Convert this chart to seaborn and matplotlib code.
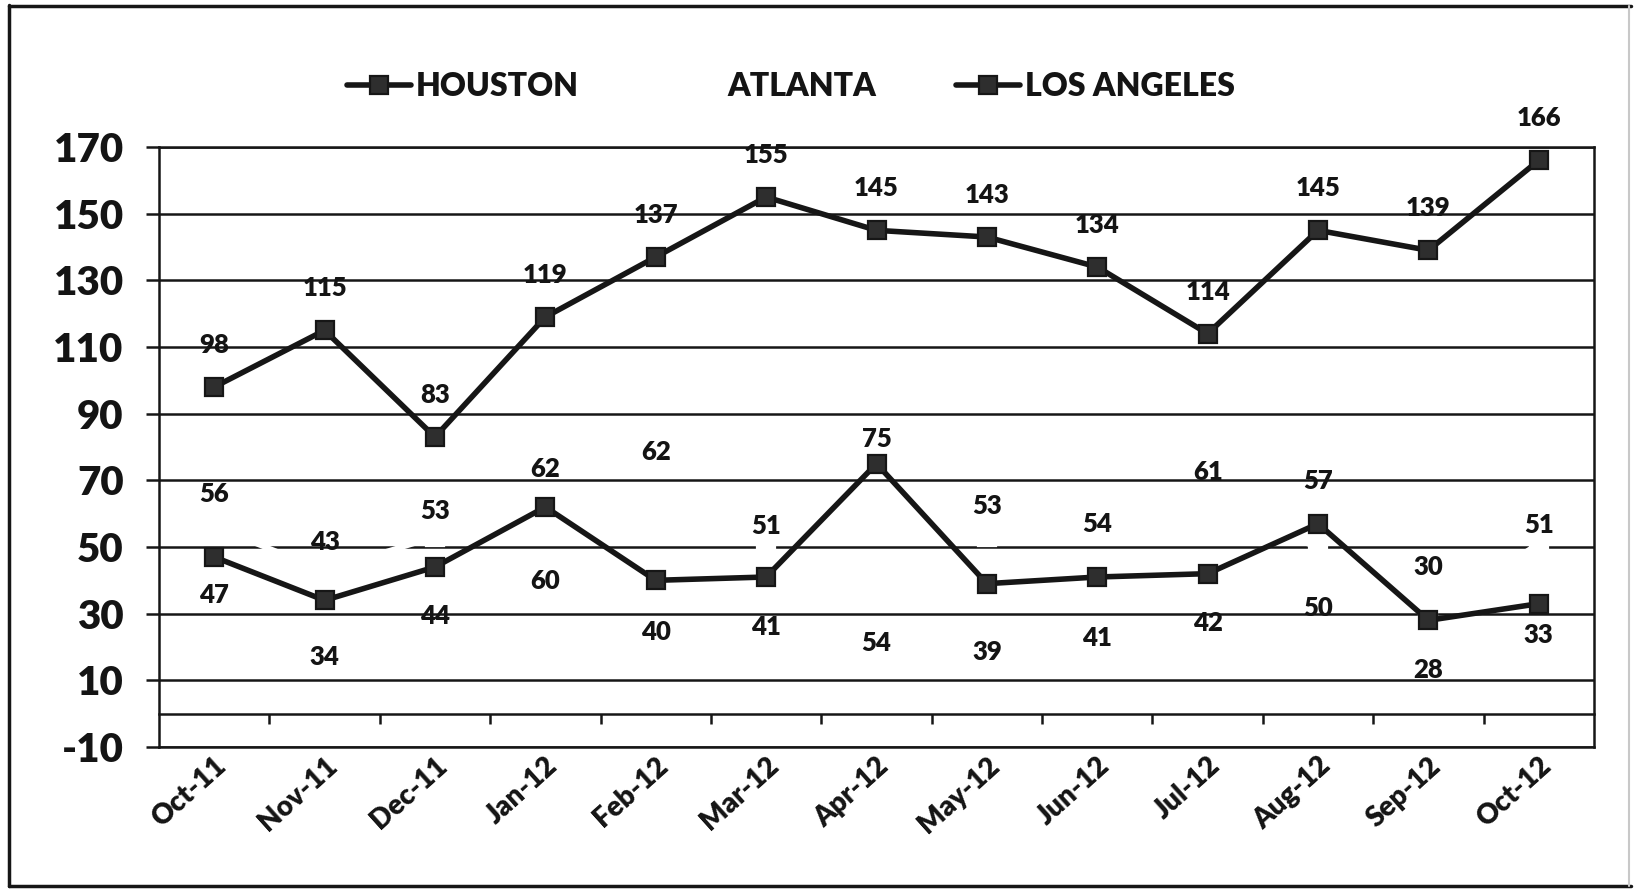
import numpy as np
import pandas as pd
import matplotlib
matplotlib.use("Agg")
import matplotlib.pyplot as plt
import seaborn as sns
from matplotlib.lines import Line2D

# ---- data -------------------------------------------------------------
months = ["Oct-11", "Nov-11", "Dec-11", "Jan-12", "Feb-12", "Mar-12", "Apr-12",
          "May-12", "Jun-12", "Jul-12", "Aug-12", "Sep-12", "Oct-12"]
houston = [98, 115, 83, 119, 137, 155, 145, 143, 134, 114, 145, 139, 166]
atlanta = [56, 43, 53, 60, 62, 51, 54, 53, 54, 61, 50, 30, 51]
los_angeles = [47, 34, 44, 62, 40, 41, 75, 39, 41, 42, 57, 28, 33]
y_ticks = [-10, 10, 30, 50, 70, 90, 110, 130, 150, 170]
y_tick_labels = ["-10", "10", "30", "50", "70", "90", "110", "130", "150", "170"]

# vertical placement of the value labels, in pixels (positive = above the point)
houston_label_dy = [42] * len(months)
atlanta_label_dy = [33, 28, 26, -67, 55, 18, -109, 31, 10, 38, -61, 47, 19]
la_label_dy = [-38, -57, -49, 38, -52, -50, 25, -68, -61, -49, 43, -50, -31]

# ---- style ------------------------------------------------------------
sns.set_theme(style="white")
plt.rcParams["font.family"] = ["Lato", "DejaVu Sans"]
plt.rcParams["font.weight"] = "heavy"
plt.rcParams["axes.unicode_minus"] = False

INK = "#161616"
TXT = "#141414"
W, H = 1637, 889
fig = plt.figure(figsize=(W / 100, H / 100), dpi=100)
fig.patch.set_facecolor("white")
ax = fig.add_axes([159 / W, 1 - 747 / H, (1594 - 159) / W, (747 - 147) / H])
ax.set_facecolor("white")

x = np.arange(len(months))
df = pd.DataFrame({"pos": x, "HOUSTON": houston, "ATLANTA": atlanta,
                   "LOS ANGELES": los_angeles})

series_style = {
    "HOUSTON": dict(color=INK, mfc="#2e2e2e", mec=INK, z=4),
    "ATLANTA": dict(color="white", mfc="white", mec="white", z=3),
    "LOS ANGELES": dict(color=INK, mfc="#2e2e2e", mec=INK, z=5),
}

for name, st in series_style.items():
    sns.lineplot(data=df, x="pos", y=name, ax=ax, color=st["color"], lw=4.0,
                 marker="s", markersize=12.5, markerfacecolor=st["mfc"],
                 markeredgecolor=st["mec"], markeredgewidth=1.6,
                 zorder=st["z"], legend=False)

# value labels
for values, offsets in ((houston, houston_label_dy),
                        (atlanta, atlanta_label_dy),
                        (los_angeles, la_label_dy)):
    for xi, v, dy in zip(x, values, offsets):
        ax.annotate(str(v), (xi, v), xytext=(0, dy), textcoords="offset pixels",
                    ha="center", va="center", fontsize=18.5, fontweight="heavy",
                    color=TXT, zorder=6)

# axes, grid and ticks
ax.set_xlim(-0.5, len(months) - 0.5)
ax.set_ylim(-10, 170)
ax.set_yticks(y_ticks)
ax.set_yticklabels(y_tick_labels, fontweight="heavy")
ax.set_xticks(x)
ax.set_xticklabels(months, rotation=42, ha="right", rotation_mode="anchor",
                   fontweight="heavy")
ax.set_xlabel("")
ax.set_ylabel("")
ax.grid(axis="y", color=INK, lw=1.8)
ax.grid(axis="x", visible=False)
ax.set_axisbelow(True)
for sp in ax.spines.values():
    sp.set_visible(True)
    sp.set_color(INK)
    sp.set_linewidth(1.8)
ax.tick_params(axis="y", left=True, length=9.5, width=1.8, color=INK, pad=16,
               labelsize=29, labelcolor=TXT)
ax.tick_params(axis="x", bottom=False, length=0, pad=4, labelsize=20,
               labelcolor=TXT)

# horizontal axis line at zero with tick marks between categories
zero_axis = ax.secondary_xaxis((0 - (-10)) / (170 - (-10)))
zero_axis.set_xticks(np.arange(len(months) - 1) + 0.5)
zero_axis.tick_params(axis="x", direction="out", length=7, width=1.8,
                      color=INK, labelbottom=False, labeltop=False)
zero_axis.spines["bottom"].set_color(INK)
zero_axis.spines["bottom"].set_linewidth(1.8)

# legend
handles = []
for name, st in series_style.items():
    handles.append(Line2D([], [], color=st["color"], lw=4.0, marker="s",
                          markersize=12.5, markerfacecolor=st["mfc"],
                          markeredgecolor=st["mec"], markeredgewidth=1.6))
fig.legend(handles, list(series_style.keys()), ncol=3, loc="center",
           bbox_to_anchor=(0.483, 1 - 87 / H), frameon=False,
           prop=dict(size=23, weight="heavy"), handlelength=2.0,
           handletextpad=0.15, columnspacing=2.5, labelcolor=TXT)

# outer frame
frame_kw = dict(transform=fig.transFigure, color=INK, lw=2.5)
fig.add_artist(Line2D([9 / W, 9 / W], [1 - 5 / H, 1 - 886 / H], **frame_kw))
fig.add_artist(Line2D([9 / W, 1631 / W], [1 - 6 / H, 1 - 6 / H], **frame_kw))
fig.add_artist(Line2D([9 / W, 1631 / W], [1 - 886 / H, 1 - 886 / H], **frame_kw))
fig.add_artist(Line2D([1629 / W, 1629 / W], [1 - 6 / H, 1 - 886 / H],
                      transform=fig.transFigure, color="#c8c8c8", lw=1.5))

fig.savefig("out.png", dpi=100, facecolor="white")
